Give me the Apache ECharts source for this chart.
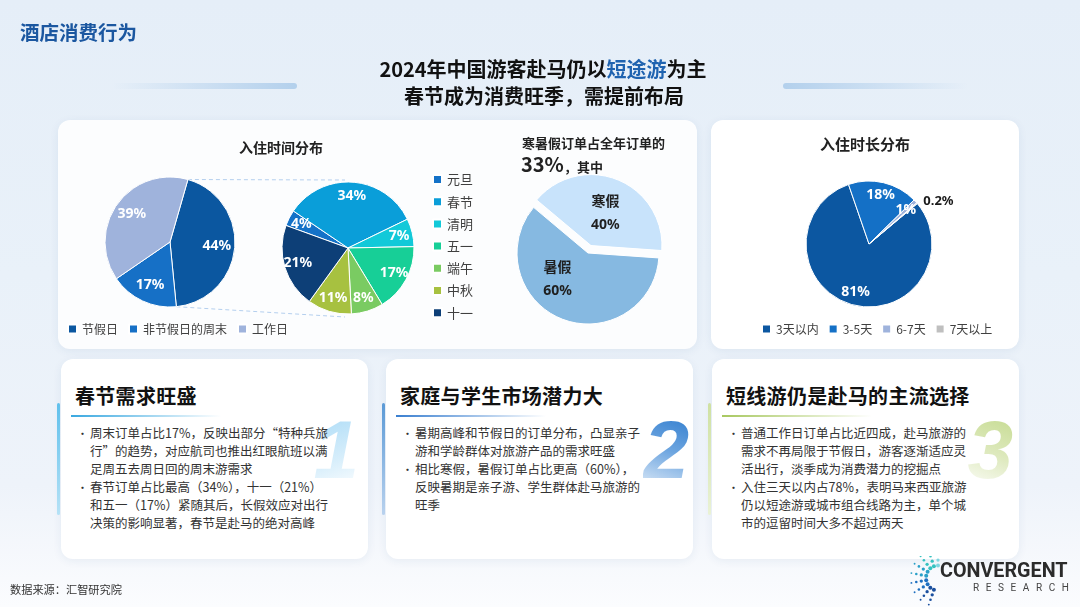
<!DOCTYPE html>
<html lang="zh-CN">
<head>
<meta charset="utf-8">
<script src="https://cdn.jsdelivr.net/npm/echarts@6.0.0/dist/echarts.min.js"></script>
<style>
  html,body{margin:0;padding:0;}
  body{width:1080px;height:607px;overflow:hidden;position:relative;
    font-family:"Noto Sans CJK SC","Noto Sans",sans-serif;
    background:linear-gradient(180deg,#e5eef8 0%,#e9f1f9 45%,#eef3fa 80%,#fbfcfe 100%);}
  .abs{position:absolute;}
  .card{position:absolute;background:#fff;border-radius:12px;box-shadow:0 2px 10px rgba(30,70,130,0.07);z-index:1;}
  #chart{position:absolute;left:0;top:0;width:1080px;height:607px;z-index:2;}
  .txt{position:absolute;z-index:3;white-space:nowrap;pointer-events:none;}
  .ctitle{font-size:20px;font-weight:700;color:#111;letter-spacing:0.3px;}
  .uline{position:absolute;height:2px;width:150px;}
  .vbar{position:absolute;width:3px;height:112px;left:-4px;top:44px;border-radius:2px;}
  .bul{position:absolute;left:16px;top:65px;font-size:12.5px;line-height:18px;color:#333;}
  .bul .item{position:relative;padding-left:13px;}
  .bul .item:before{content:"•";position:absolute;left:0;top:0;font-size:11px;}
  .ql{display:inline-block;width:1em;text-align:right;}
  .qr{display:inline-block;width:1em;text-align:left;}
  .bignum{position:absolute;font-family:"Liberation Sans",Arial,sans-serif;font-style:italic;font-weight:700;font-size:82px;line-height:82px;
    -webkit-background-clip:text;background-clip:text;color:transparent;}
</style>
</head>
<body>
<!-- header -->
<div class="txt" style="left:20px;top:17px;font-size:19.5px;font-weight:700;color:#1b57a0;">酒店消费行为</div>
<div class="abs" style="left:112px;top:83px;width:185px;height:6px;border-radius:3px;background:linear-gradient(90deg,rgba(179,208,236,0) 0%,#b3d0ec 100%);"></div>
<div class="abs" style="left:783px;top:83px;width:185px;height:6px;border-radius:3px;background:linear-gradient(90deg,#b3d0ec 0%,rgba(179,208,236,0) 100%);"></div>
<div class="txt" style="left:0;width:1086px;text-align:center;top:54px;font-size:20px;font-weight:700;color:#111;">2024年中国游客赴马仍以<span style="color:#1f63b0">短途游</span>为主</div>
<div class="txt" style="left:0;width:1088px;text-align:center;top:81px;font-size:20px;font-weight:700;color:#111;">春节成为消费旺季，需提前布局</div>

<!-- top cards -->
<div class="card" style="left:58px;top:120px;width:639px;height:229px;background:#fcfdfe;"></div>
<div class="card" style="left:711px;top:120px;width:308px;height:229px;"></div>
<div class="txt" style="left:221px;width:120px;text-align:center;top:137px;font-size:14px;font-weight:700;color:#222;">入住时间分布</div>
<div class="txt" style="left:522px;top:133px;font-size:13px;font-weight:700;color:#222;">寒暑假订单占全年订单的</div>
<div class="txt" style="left:521px;top:149px;font-size:13px;font-weight:700;color:#222;"><span style="font-size:20px;">33%</span>，其中</div>
<div class="txt" style="left:805px;width:120px;text-align:center;top:133px;font-size:15px;font-weight:700;color:#222;">入住时长分布</div>

<!-- bottom cards -->
<div class="card" style="left:61px;top:359px;width:307px;height:200px;overflow:visible;">
  <div class="vbar" style="background:linear-gradient(180deg,#5fc0ec,#b6e2f6);"></div>
  <div class="txt ctitle" style="left:14px;top:22px;">春节需求旺盛</div>
  <div class="uline" style="left:10px;top:56px;background:linear-gradient(90deg,#39a8e0,rgba(57,168,224,0));"></div>
  <div class="bignum" style="right:9px;top:50px;background-image:linear-gradient(160deg,#a6d9f6 0%,#d7eefb 60%,#ffffff 100%);">1</div>
  <div class="bul txt">
    <div class="item">周末订单占比17%，反映出部分<span class="ql">“</span>特种兵旅<br>行<span class="qr">”</span>的趋势，对应航司也推出红眼航班以满<br>足周五去周日回的周末游需求</div>
    <div class="item">春节订单占比最高（34%），十一（21%）<br>和五一（17%）紧随其后，长假效应对出行<br>决策的影响显著，春节是赴马的绝对高峰</div>
  </div>
</div>
<div class="card" style="left:386px;top:359px;width:307px;height:200px;">
  <div class="vbar" style="background:linear-gradient(180deg,#5b9ad6,#b9d2ee);"></div>
  <div class="txt ctitle" style="left:14px;top:22px;">家庭与学生市场潜力大</div>
  <div class="uline" style="left:10px;top:56px;background:linear-gradient(90deg,#3a7fd0,rgba(58,127,208,0));"></div>
  <div class="bignum" style="right:4px;top:50px;background-image:linear-gradient(200deg,#2a78cc 0%,#6ea6e0 50%,#e4eef9 100%);">2</div>
  <div class="bul txt">
    <div class="item">暑期高峰和节假日的订单分布，凸显亲子<br>游和学龄群体对旅游产品的需求旺盛</div>
    <div class="item">相比寒假，暑假订单占比更高（60%），<br>反映暑期是亲子游、学生群体赴马旅游的<br>旺季</div>
  </div>
</div>
<div class="card" style="left:712px;top:359px;width:307px;height:200px;">
  <div class="vbar" style="background:linear-gradient(180deg,#cfe1a2,#eaf2d6);"></div>
  <div class="txt ctitle" style="left:14px;top:22px;">短线游仍是赴马的主流选择</div>
  <div class="uline" style="left:10px;top:56px;background:linear-gradient(90deg,#a8c860,rgba(168,200,96,0));"></div>
  <div class="bignum" style="right:6px;top:50px;background-image:linear-gradient(200deg,#c2d98a 0%,#dfeac0 55%,#ffffff 100%);">3</div>
  <div class="bul txt">
    <div class="item">普通工作日订单占比近四成，赴马旅游的<br>需求不再局限于节假日，游客逐渐适应灵<br>活出行，淡季成为消费潜力的挖掘点</div>
    <div class="item">入住三天以内占78%，表明马来西亚旅游<br>仍以短途游或城市组合线路为主，单个城<br>市的逗留时间大多不超过两天</div>
  </div>
</div>

<!-- footer -->
<div class="txt" style="left:10px;top:581px;font-size:11.2px;color:#333;">数据来源：汇智研究院</div>
<svg class="abs" id="logo" style="left:908px;top:556px;z-index:3;" width="40" height="50"></svg>
<div class="txt" style="left:940px;top:558px;font-family:Roboto,'Liberation Sans',sans-serif;font-weight:700;font-size:21px;line-height:24px;color:#2b2b2b;transform:scaleX(0.94);transform-origin:left top;">CONVERGENT</div>
<div class="txt" style="left:973px;top:582px;font-family:Roboto,'Liberation Sans',sans-serif;font-size:10px;line-height:12px;letter-spacing:6.6px;color:#444;">RESEARCH</div>

<div id="chart"></div>

<script>
// ---------- data ----------
const stayCats = ['节假日', '非节假日的周末', '工作日'];
const stayVals = [44, 17, 39];
const holidayCats = ['元旦', '春节', '清明', '五一', '端午', '中秋', '十一'];
const holidayVals = [4, 34, 7, 17, 8, 11, 21];
const vacationCats = ['寒假', '暑假'];
const vacationVals = [40, 60];
const durationCats = ['3天以内', '3-5天', '6-7天', '7天以上'];
const durationVals = [81, 18, 1, 0.2];

// ---------- styles ----------
const stayColors = ['#0b57a0', '#1670c6', '#9fb3dc'];
const holidayColors = ['#1472c8', '#0a9ed9', '#12c9d9', '#17cf97', '#7acb62', '#a7c140', '#0d3f77'];
const vacationColors = ['#c8e3fb', '#86b9e1'];
const durationColors = ['#0c57a1', '#1470c6', '#9fb3dc', '#bfbfbf'];

const P1 = {c: [170, 242], r: 65, start: 74};
const P2 = {c: [348, 248], r: 66, start: 160};
const P3 = {c: [588, 253], r: 71, start: 140};
const P4 = {c: [869, 244], r: 63, start: 40};

const FONT = '"Noto Sans","Noto Sans CJK SC",sans-serif';

function items(cats, vals, colors, transparent) {
  return cats.map((n, i) => ({
    name: n, value: vals[i],
    itemStyle: {color: transparent ? 'rgba(0,0,0,0)' : colors[i]}
  }));
}
function mainPie(P, cats, vals, colors) {
  return {
    type: 'pie', center: P.c, radius: [0, P.r], startAngle: P.start, clockwise: true,
    data: items(cats, vals, colors, false), silent: true,
    label: {show: false}, labelLine: {show: false},
    itemStyle: {borderColor: '#ffffff', borderWidth: 1}
  };
}
function labelPie(P, cats, vals, inner, extra) {
  const s = {
    type: 'pie', center: P.c, radius: [inner, P.r], startAngle: P.start, clockwise: true,
    data: items(cats, vals, null, true), silent: true, legendHoverLink: false,
    itemStyle: {borderWidth: 0},
    label: {show: true, position: 'inside', formatter: '{c}%', color: '#fff',
      fontSize: 14, fontWeight: 'bold', fontFamily: FONT},
    labelLine: {show: false}
  };
  return Object.assign(s, extra || {});
}

// connector lines from pie geometry
const rad = d => d * Math.PI / 180;
const pt = (P, deg) => [P.c[0] + P.r * Math.cos(rad(deg)), P.c[1] - P.r * Math.sin(rad(deg))];
const staySum = stayVals.reduce((a, b) => a + b, 0);
const holStartPt = pt(P1, P1.start);
const holEndPt = pt(P1, P1.start - stayVals[0] / staySum * 360);

const durLabelData = items(durationCats, durationVals, null, true);
durLabelData[3].label = {position: 'outside', color: '#1a1a1a', fontSize: 13, fontWeight: 'bold', distanceToLabelLine: 2};
durLabelData[3].labelLine = {show: false, length: 3, length2: 2};

const legendText = {fontSize: 12, color: '#404040', fontFamily: '"Noto Sans CJK SC",sans-serif'};

const option = {
  animation: false,
  legend: [
    {data: stayCats, left: 67, top: 323, padding: 0, itemWidth: 9, itemHeight: 9, itemGap: 10, icon: 'rect',
      textStyle: legendText, selectedMode: false},
    {data: holidayCats, left: 432, top: 173, padding: 0, orient: 'vertical', itemWidth: 9, itemHeight: 9, itemGap: 9.2,
      icon: 'rect', textStyle: Object.assign({}, legendText, {fontSize: 13}), selectedMode: false},
    {data: durationCats, left: 761, top: 323, padding: 0, itemWidth: 9, itemHeight: 9, itemGap: 9, icon: 'rect',
      textStyle: legendText, selectedMode: false}
  ],
  graphic: [
    {type: 'line', shape: {x1: holStartPt[0], y1: holStartPt[1], x2: P2.c[0] - 3, y2: P2.c[1] - P2.r - 2},
      style: {stroke: '#b4cfee', lineWidth: 1, lineDash: [4, 3]}, silent: true},
    {type: 'line', shape: {x1: holEndPt[0], y1: holEndPt[1], x2: P2.c[0] - 3, y2: P2.c[1] + P2.r + 3},
      style: {stroke: '#b4cfee', lineWidth: 1, lineDash: [4, 3]}, silent: true}
  ],
  series: [
    mainPie(P1, stayCats, stayVals, stayColors),
    mainPie(P2, holidayCats, holidayVals, holidayColors),
    mainPie(P4, durationCats, durationVals, durationColors),
    {
      type: 'pie', center: P3.c, radius: [0, P3.r], startAngle: P3.start, clockwise: true,
      selectedMode: 'single', selectedOffset: 8,
      data: vacationCats.map((n, i) => ({name: n, value: vacationVals[i], selected: i === 0,
        itemStyle: {color: vacationColors[i]}})),
      itemStyle: {borderColor: '#ffffff', borderWidth: 1},
      label: {show: true, position: 'inside', formatter: '{b}\n{c}%', color: '#1f1f1f',
        fontSize: 14, fontWeight: 'bold', lineHeight: 23, fontFamily: FONT},
      labelLine: {show: false},
      labelLayout: function (p) { if (p.dataIndex === 1) return {dx: -16, dy: -9}; return {dy: 4}; }
    },
    labelPie(P1, stayCats, stayVals, 23),
    labelPie(P2, holidayCats, holidayVals, 33),
    labelPie(P4, durationCats, durationVals, 31, {data: durLabelData})
  ]
};

const chart = echarts.init(document.getElementById('chart'), null, {renderer: 'canvas', width: 1080, height: 607});
chart.setOption(option);

// logo dots (decorative)
(function () {
  const svg = document.getElementById('logo');
  const cols = ['#1b4f9e', '#1e6fc0', '#2aa0c8', '#35c2c0', '#7fd6e0'];
  let html = '';
  for (let ring = 0; ring < 4; ring++) {
    const R = 12 + ring * 5;
    for (let k = 0; k < 9; k++) {
      const a = rad(110 + k * 20);
      const x = 30 + R * Math.cos(a), y = 22 + R * Math.sin(a) * 1.05;
      if (x < 0 || y < 0 || y > 50) continue;
      const sz = 2.0 - ring * 0.35;
      html += '<circle cx="' + x.toFixed(1) + '" cy="' + y.toFixed(1) + '" r="' + sz.toFixed(2) + '" fill="' + cols[Math.min(4, Math.floor(k / 2))] + '"/>';
    }
  }
  svg.innerHTML = html;
})();
</script>
</body>
</html>
